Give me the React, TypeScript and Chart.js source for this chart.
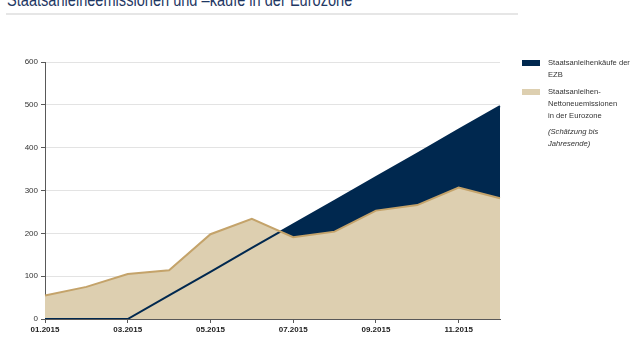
import React, { useEffect, useRef } from "react";
import { Chart, registerables } from "chart.js";

Chart.register(...registerables);

const months = ["01.2015","02.2015","03.2015","04.2015","05.2015","06.2015","07.2015","08.2015","09.2015","10.2015","11.2015","12.2015"];
const emissions = [55, 75, 105, 114, 198, 234, 191, 204, 253, 266, 307, 282];
const purchases = [0, 0, 0, 55, 110, 166, 221, 276, 331, 386, 442, 497];
const yTicks = [0, 100, 200, 300, 400, 500, 600];

const NAVY = "#00284F";
const TAN = "#DDCFB0";
const TAN_LINE = "#C4A36A";

export default function App() {
  const ref = useRef<HTMLCanvasElement>(null);
  useEffect(() => {
    if (!ref.current) return;
    const chart = new Chart(ref.current, {
      type: "line",
      data: {
        labels: months,
        datasets: [
          {
            label: "Staatsanleihen-Nettoneuemissionen in der Eurozone",
            data: emissions,
            borderColor: TAN_LINE,
            backgroundColor: TAN,
            borderWidth: 2,
            fill: "origin",
            pointRadius: 0,
            tension: 0,
          },
          {
            label: "Staatsanleihenkäufe der EZB",
            data: purchases,
            borderColor: NAVY,
            backgroundColor: NAVY,
            borderWidth: 2,
            fill: "origin",
            pointRadius: 0,
            tension: 0,
          },
        ],
      },
      options: {
        animation: false,
        responsive: false,
        layout: { padding: { left: 0, right: 140, top: 62, bottom: 21 } },
        plugins: {
          legend: { display: false },
          tooltip: { enabled: false },
          filler: { drawTime: "beforeDatasetsDraw" },
        },
        scales: {
          x: {
            offset: false,
            afterFit: (s: any) => { s.height = 20; },
            grid: { display: true, drawOnChartArea: false, color: "#595959", tickLength: 4 },
            border: { color: "#595959", width: 1 },
            ticks: {
              autoSkip: false,
              maxRotation: 0,
              color: "#222",
              font: { family: "Liberation Sans", size: 8, weight: "bold" },
              padding: 2,
              callback: (_v: any, i: number) => (i % 2 === 0 ? months[i] : null),
            },
          },
          y: {
            min: 0,
            max: 600,
            afterFit: (s: any) => { s.width = 45; },
            afterBuildTicks: (s: any) => { s.ticks = yTicks.map((v) => ({ value: v })); },
            grid: { color: "#E3E3E3", tickColor: "#595959", tickLength: 4 },
            border: { color: "#595959", width: 1 },
            ticks: {
              color: "#333",
              font: { family: "Liberation Sans", size: 8 },
              padding: 3,
            },
          },
        },
      },
    });
    return () => chart.destroy();
  }, []);

  const txt: React.CSSProperties = { fontFamily: "Liberation Sans, Arial, sans-serif", fontSize: 7.6, color: "#333", lineHeight: "12px" };

  return (
    <div style={{ position: "absolute", left: 0, top: 0, width: 640, height: 360, overflow: "hidden", background: "#fff" }}>
      <div style={{ position: "absolute", left: 7, top: -10, fontFamily: "Liberation Sans, Arial, sans-serif", fontSize: 18, color: "#1F3864", whiteSpace: "nowrap", lineHeight: "20px", transform: "scaleX(0.81)", transformOrigin: "left top" }}>
        Staatsanleiheemissionen und –käufe in der Eurozone
      </div>
      <div style={{ position: "absolute", left: 6, top: 13, width: 512, height: 2, background: "#E6E6E6" }} />
      <canvas ref={ref} width={640} height={360} style={{ position: "absolute", left: 0, top: 0 }} />
      <div style={{ position: "absolute", left: 522, top: 60, width: 18, height: 6, background: NAVY }} />
      <div style={{ ...txt, position: "absolute", left: 548, top: 57 }}>Staatsanleihenkäufe der<br />EZB</div>
      <div style={{ position: "absolute", left: 522, top: 89, width: 18, height: 6, background: TAN }} />
      <div style={{ ...txt, position: "absolute", left: 548, top: 86 }}>Staatsanleihen-<br />Nettoneuemissionen<br />in der Eurozone</div>
      <div style={{ ...txt, position: "absolute", left: 548, top: 126, fontStyle: "italic" }}>(Schätzung bis<br />Jahresende)</div>
    </div>
  );
}
